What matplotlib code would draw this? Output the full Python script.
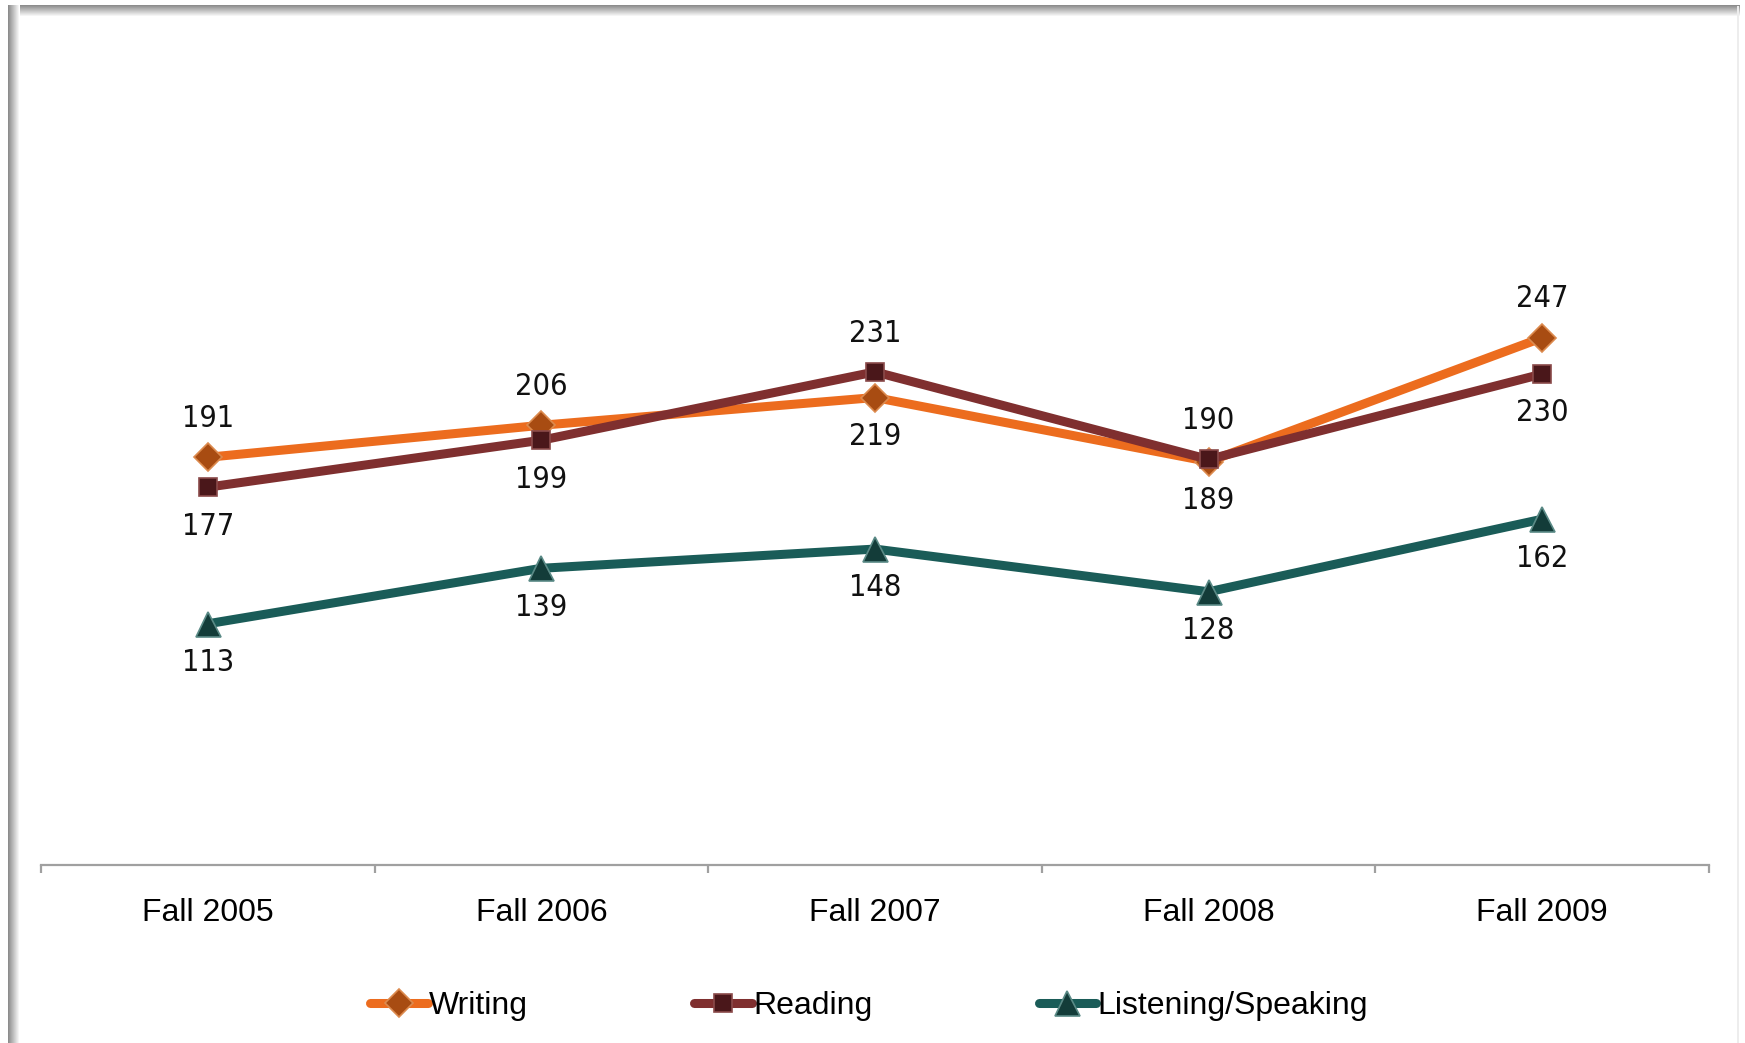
import matplotlib
matplotlib.use('Agg')
import matplotlib.pyplot as plt
from matplotlib.patches import Rectangle

plt.rcParams['font.family'] = ['Liberation Sans', 'DejaVu Sans']

# data
terms = ['Fall 2005', 'Fall 2006', 'Fall 2007', 'Fall 2008', 'Fall 2009']
writing = [191, 206, 219, 189, 247]
reading = [177, 199, 231, 190, 230]
listening = [113, 139, 148, 128, 162]
# label side: +1 above the point, -1 below
writing_pos = [1, 1, -1, -1, 1]
reading_pos = [-1, -1, 1, 1, -1]
listening_pos = [-1, -1, -1, -1, -1]

W, H, DPI = 1745, 1043, 100
fig = plt.figure(figsize=(W / DPI, H / DPI), dpi=DPI)
ax = fig.add_axes([41 / W, 1 - 865 / H, (1709 - 41) / W, (865 - 9) / H])

series = [
    ('Writing', writing, writing_pos, '#EC6C1E', 'D', 14, '#A84C12', '#DC8A4E'),
    ('Reading', reading, reading_pos, '#7F2F2F', 's', 13, '#4A171A', '#8A4A4A'),
    ('Listening/Speaking', listening, listening_pos, '#1A5C58', '^', 18, '#133C39', '#5A8A86'),
]
xs = list(range(len(terms)))
for name, vals, pos, col, mk, ms, mfc, mec in series:
    ax.plot(xs, vals, color=col, lw=6.5, marker=mk, ms=ms, mfc=mfc, mec=mec,
            mew=1.2, label=name, solid_capstyle='round', zorder=3)
    for x, v, p in zip(xs, vals, pos):
        ax.annotate(str(v), (x, v), xytext=(0, 28 * p), textcoords='offset points',
                    ha='center', va='center', fontsize=22, family='DejaVu Sans',
                    fontstretch='condensed', color='#111111')

ax.set_xlim(-0.5, 4.5)
ax.set_ylim(0, 401)
ax.set_yticks([])
for s in ['top', 'right', 'left']:
    ax.spines[s].set_visible(False)
ax.spines['bottom'].set_color('#a0a0a0')
ax.spines['bottom'].set_linewidth(1.6)

ax.set_xticks(xs)
ax.set_xticklabels(terms, fontsize=23)
ax.tick_params(axis='x', which='major', length=0, pad=24)
ax.set_xticks([i - 0.5 for i in range(len(terms) + 1)], minor=True)
ax.tick_params(axis='x', which='minor', length=6, width=1.6, color='#a0a0a0')

ax.legend(loc='center', bbox_to_anchor=(0.4965, -0.165), ncol=3, frameon=False,
          fontsize=23, handlelength=1.8, handletextpad=0.05, columnspacing=5.2,
          borderpad=0)

# frame shadow on the left and top
n = 12
for i in range(n):
    g = 0.55 + 0.45 * i / (n - 1)
    fig.add_artist(Rectangle(((8 + i) / W, 0), 1 / W, 1 - 5 / H,
                             transform=fig.transFigure, color=str(g), lw=0))
    fig.add_artist(Rectangle(((8 + i) / W, 1 - (6 + i) / H), (1740 - 8 - i) / W, 1 / H,
                             transform=fig.transFigure, color=str(g), lw=0))
fig.add_artist(Rectangle((1737 / W, 0), 2 / W, 1 - 6 / H,
                         transform=fig.transFigure, color='0.93', lw=0))

fig.savefig('out.png', dpi=DPI)
